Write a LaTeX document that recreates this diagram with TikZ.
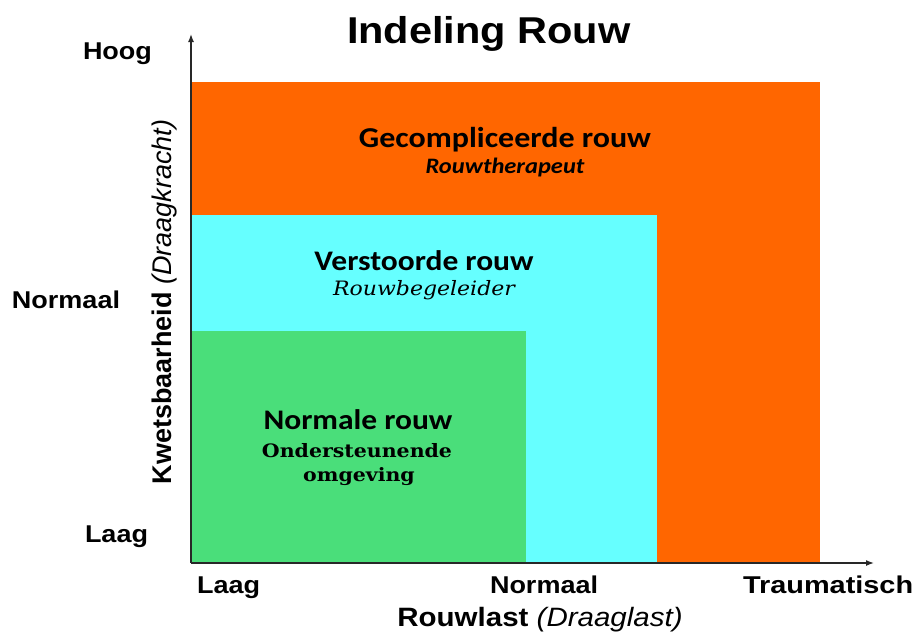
\documentclass[tikz,border=0pt]{standalone}
\usepackage{fontspec}
\usepackage{graphicx}
\usetikzlibrary{arrows.meta}
\setmainfont{Liberation Sans}
\newfontfamily\carl{Carlito}
\newfontfamily\dserif{DejaVu Serif}
\newcommand\vsq[1]{\scalebox{1}[0.9]{#1}}
\newcommand\fs[1]{\fontsize{#1}{#1}\selectfont}
\definecolor{orangeR}{RGB}{255,102,0}
\definecolor{cyanR}{RGB}{102,255,255}
\definecolor{greenR}{RGB}{74,222,122}
\definecolor{axisC}{RGB}{40,40,40}
\tikzset{
  region/.style={draw=none, anchor=north west, inner sep=0pt, outer sep=0pt},
  lbl/.style={anchor=base, inner sep=0pt, outer sep=0pt, text=black},
  tick/.style={anchor=base west, inner sep=0pt, outer sep=0pt, font=\fs{27}\bfseries},
  axisline/.style={draw=axisC, line width=1.4pt, -{Latex[length=8pt,width=6pt]}}
}
\begin{document}
\begin{tikzpicture}[x=1pt,y=-1pt]
\useasboundingbox (0,0) rectangle (915,635);
% regions
\node[region, fill=orangeR, minimum width=630pt, minimum height=481pt] (gecomp) at (190,82) {};
\node[region, fill=cyanR, minimum width=467pt, minimum height=348pt] (verst) at (190,215) {};
\node[region, fill=greenR, minimum width=336pt, minimum height=232pt] (norm) at (190,331) {};
% axes
\coordinate (origin) at (191,563);
\coordinate (ytop) at (191,34);
\coordinate (xend) at (874,563);
\draw[axisline] (origin) -- (ytop);
\draw[axisline] (origin) -- (xend);
% title
\node[lbl, anchor=base west] (title) at (347,43) {\vsq{\fs{41.5}\bfseries Indeling Rouw}};
% region texts
\node[lbl] (t1) at (505,147) {\vsq{\carl\fs{32}\bfseries Gecompliceerde rouw}};
\node[lbl] (t1s) at (505,173) {\vsq{\carl\fs{24.5}\bfseries\itshape Rouwtherapeut}};
\node[lbl] (t2) at (424,270) {\vsq{\carl\fs{31.5}\bfseries Verstoorde rouw}};
\node[lbl] (t2s) at (424,295) {\vsq{\dserif\fs{22}\itshape Rouwbegeleider}};
\node[lbl] (t3) at (358,429) {\vsq{\carl\fs{31.5}\bfseries Normale rouw}};
\node[lbl] (t3s) at (357,457) {\vsq{\dserif\fs{20.5}\bfseries Ondersteunende}};
\node[lbl] (t3t) at (359,481) {\vsq{\dserif\fs{20.5}\bfseries omgeving}};
% y tick labels
\node[tick] (hoog) at (83,59) {\vsq{Hoog}};
\node[tick] (ynorm) at (12,308) {\vsq{Normaal}};
\node[tick] (ylaag) at (85,542) {\vsq{Laag}};
% x tick labels
\node[tick] (xlaag) at (197,593) {\vsq{Laag}};
\node[tick] (xnorm) at (490,593) {\vsq{Normaal}};
\node[tick] (xtrau) at (743,593) {\scalebox{1.07}[0.9]{Traumatisch}};
% axis titles
\node[lbl] (xtitle) at (540,626) {\vsq{\fs{29.5}{\bfseries Rouwlast} {\itshape(Draaglast)}}};
\node[lbl, anchor=center, rotate=90] (ytitle) at (165,302) {\fs{27}{\bfseries Kwetsbaarheid} {\itshape(Draagkracht)}};
\end{tikzpicture}
\end{document}
